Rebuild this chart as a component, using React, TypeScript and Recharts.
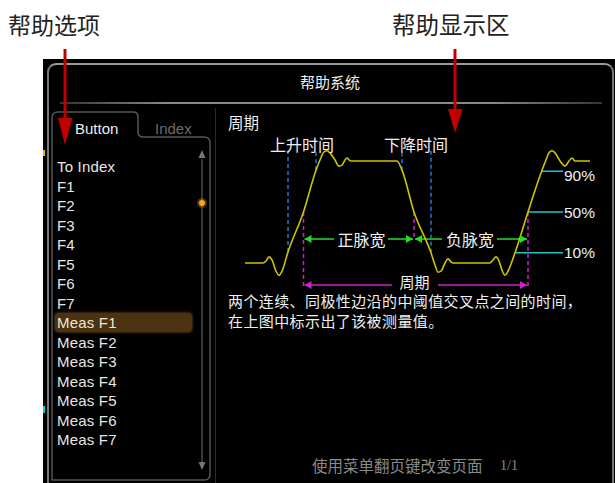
import React from 'react';
import { LineChart, Line, XAxis, YAxis, ReferenceLine, ReferenceDot } from 'recharts';

// waveform: time (arbitrary units) vs level in % of amplitude
const waveT = [0, 18, 21, 24, 27, 31, 34, 37, 43, 58.5, 71, 75, 79, 82, 85, 90, 94, 97, 100, 102, 104, 106, 152, 157, 169, 186, 190, 193, 196, 200, 203, 206, 208, 245, 248, 251, 254, 257, 260, 263, 270, 283, 297, 301, 304, 307, 310, 315, 320, 324, 327, 330, 345];
const waveV = [0, 0, 2, 6, 3, -8, -12, -8, 10.8, 50, 91, 101, 109, 110, 108, 101, 95, 96, 101, 103, 101, 100, 100, 91, 50, 10, -2, -9, -8, 0, 4, 1, 0, 0, 3, 6, 2, -7, -12, -8, 10, 50, 91, 101, 108, 110, 108, 100, 95, 100, 103, 100, 100];

const levels = [90, 50, 10];
const levelStartT = [297, 283, 270];
const levelLabelV = [85.3, 49.5, 10.3];

// blue timing marks (t, level crossed)
const timingT = [43, 71, 157, 186];
const timingV = [10.8, 91, 91, 10];

const menuItems = ['To Index', 'F1', 'F2', 'F3', 'F4', 'F5', 'F6', 'F7', 'Meas F1', 'Meas F2', 'Meas F3', 'Meas F4', 'Meas F5', 'Meas F6', 'Meas F7'];
const selectedItem = 'Meas F1';

const data = waveT.map((t, i) => ({ t, v: waveV[i] }));

const CJK = '"Noto Sans CJK SC", sans-serif';
const BLUE = '#1f7ae0';
const MAGENTA = '#cc22cc';
const GREEN = '#22dd22';
const CYAN = '#20c4c8';

const textShape = (value: string, size = 16, anchor = 'middle', family = CJK) => (p: any) => (
  <text x={p.cx} y={p.cy} textAnchor={anchor} dominantBaseline="central" fontSize={size} fill="#f0f0f0" fontFamily={family}>
    {value}
  </text>
);

const arrowShape = (dir: 'left' | 'right', color: string) => (p: any) => {
  const { cx, cy } = p;
  const d = dir === 'left'
    ? `M${cx},${cy} L${cx + 7},${cy - 4} L${cx + 7},${cy + 4} Z`
    : `M${cx},${cy} L${cx - 7},${cy - 4} L${cx - 7},${cy + 4} Z`;
  return <path d={d} fill={color} />;
};

const seg = (x1: number, y1: number, x2: number, y2: number, color: string, dash?: string, key?: string) => (
  <ReferenceLine key={key} segment={[{ x: x1, y: y1 }, { x: x2, y: y2 }]} stroke={color} strokeWidth={1.5} strokeDasharray={dash} />
);

const Waveform = () => (
  <LineChart width={395} height={200} data={data} margin={{ top: 25.5, right: 25, bottom: 21.5, left: 25 }}>
    <XAxis type="number" dataKey="t" domain={[0, 345]} hide />
    <YAxis type="number" domain={[-25, 125]} hide />
    {timingT.map((t, i) => seg(t, timingV[i], t, 110, BLUE, '4 3', 'b' + i))}
    {seg(58.5, 50, 58.5, -23.5, MAGENTA, '4 3')}
    {seg(169, 50, 169, 22.5, MAGENTA, '4 3')}
    {seg(283, 50, 283, -23.5, MAGENTA, '4 3')}
    {seg(59.5, 23.5, 89, 23.5, GREEN)}
    {seg(143, 23.5, 168, 23.5, GREEN)}
    {seg(170, 23.5, 197, 23.5, GREEN)}
    {seg(252, 23.5, 282, 23.5, GREEN)}
    {seg(59.5, -21.5, 147, -21.5, MAGENTA)}
    {seg(193, -21.5, 282, -21.5, MAGENTA)}
    {levels.map((v, i) => seg(levelStartT[i], v, 318, v, CYAN, undefined, 'c' + i))}
    <ReferenceDot x={59.5} y={23.5} shape={arrowShape('left', GREEN)} />
    <ReferenceDot x={168} y={23.5} shape={arrowShape('right', GREEN)} />
    <ReferenceDot x={170} y={23.5} shape={arrowShape('left', GREEN)} />
    <ReferenceDot x={282} y={23.5} shape={arrowShape('right', GREEN)} />
    <ReferenceDot x={59.5} y={-21.5} shape={arrowShape('left', MAGENTA)} />
    <ReferenceDot x={282} y={-21.5} shape={arrowShape('right', MAGENTA)} />
    <ReferenceDot x={57} y={116.5} shape={textShape('上升时间')} />
    <ReferenceDot x={171} y={116.5} shape={textShape('下降时间')} />
    <ReferenceDot x={116.5} y={23.5} shape={textShape('正脉宽')} />
    <ReferenceDot x={225} y={23.5} shape={textShape('负脉宽')} />
    <ReferenceDot x={169.5} y={-18} shape={textShape('周期', 15)} />
    {levels.map((v, i) => (
      <ReferenceDot key={'l' + i} x={319} y={levelLabelV[i]} shape={textShape(`${v}%`, 15.5, 'start', '"Liberation Sans", Arial, sans-serif')} />
    ))}
    <Line type="monotone" dataKey="v" stroke="#cfc400" strokeWidth={1.6} dot={false} isAnimationActive={false} />
  </LineChart>
);

const abs = (s: React.CSSProperties): React.CSSProperties => ({ position: 'absolute', ...s });

export default function App() {
  return (
    <div style={abs({ left: 0, top: 0, width: 615, height: 483, background: '#fff', overflow: 'hidden', fontFamily: CJK })}>
      <div style={abs({ left: 8, top: 13, fontSize: 23, lineHeight: '23px', color: '#222' })}>帮助选项</div>
      <div style={abs({ left: 392, top: 13, fontSize: 23.5, lineHeight: '23px', color: '#222' })}>帮助显示区</div>

      {/* scope frame */}
      <div style={abs({ left: 43, top: 59, width: 572, height: 424, background: '#000' })} />
      <div style={abs({ left: 47, top: 63, width: 563, height: 440, borderTop: '2px solid #9a9a9a', borderLeft: '2px solid #777', borderRight: '2px solid #777', borderRadius: 9 })} />
      <div style={abs({ left: 43, top: 150, width: 2, height: 6, background: '#d0c000' })} />
      <div style={abs({ left: 43, top: 406, width: 2, height: 7, background: '#00d0d0' })} />
      <div style={abs({ left: 300, top: 74, fontSize: 15, lineHeight: '16px', color: '#eee' })}>帮助系统</div>
      <div style={abs({ left: 60, top: 102, width: 542, height: 2, background: 'linear-gradient(to right, #333, #8a8a8a 20%, #8a8a8a 80%, #333)' })} />
      <div style={abs({ left: 215, top: 108, width: 1, height: 375, background: '#2a2a2a' })} />

      <svg width={615} height={483} style={abs({ left: 0, top: 0 })}>
        <path d="M52,480 L52,118 Q52,112 58,112 L133,112 Q138,112 138,117 L138,132 Q138,137 143,137 L204,137 Q210,137 210,143 L210,474 Q210,480 204,480 Z" fill="none" stroke="#555" strokeWidth={1.5} />
        <line x1={202} y1={159} x2={202} y2={462} stroke="#4a4a4a" strokeWidth={1.5} />
        <path d="M202,150 L198.5,158 L205.5,158 Z" fill="#777" />
        <path d="M202,470 L198.5,462 L205.5,462 Z" fill="#777" />
        <circle cx={202} cy={203} r={5} fill="#f5a623" opacity={0.3} />
        <circle cx={202} cy={203} r={3} fill="#f5a623" />
      </svg>

      <div style={abs({ left: 75, top: 120, fontSize: 15, lineHeight: '18px', color: '#eee', fontFamily: '"Liberation Sans", Arial, sans-serif' })}>Button</div>
      <div style={abs({ left: 155, top: 120, fontSize: 15, lineHeight: '18px', color: '#6c6c6c', fontFamily: '"Liberation Sans", Arial, sans-serif' })}>Index</div>

      <div style={abs({ left: 55, top: 313, width: 137, height: 19, background: '#4b3210', borderRadius: 4, boxShadow: '0 0 3px #7a5520' })} />
      {menuItems.map((m, i) => (
        <div key={m} style={abs({ left: 57, top: 157.25 + i * 19.5, fontSize: 15, lineHeight: '19.5px', color: m === selectedItem ? '#f0e6d6' : '#e6e6e6', fontFamily: '"Liberation Sans", Arial, sans-serif', letterSpacing: 0.2 })}>{m}</div>
      ))}

      <div style={abs({ left: 228, top: 114, fontSize: 15.5, lineHeight: '16px', color: '#f0f0f0' })}>周期</div>
      <div style={abs({ left: 220, top: 110, width: 395, height: 200 })}>
        <Waveform />
      </div>
      <div style={abs({ left: 228, top: 295, fontSize: 15, lineHeight: '11px', color: '#f0f0f0', letterSpacing: 0.4 })}>两个连续、同极性边沿的中阈值交叉点之间的时间，</div>
      <div style={abs({ left: 228, top: 314.5, fontSize: 15, lineHeight: '11px', color: '#f0f0f0', letterSpacing: 0.4 })}>在上图中标示出了该被测量值。</div>
      <div style={abs({ left: 312, top: 457, fontSize: 15.5, lineHeight: '16px', color: '#8a8a8a' })}>使用菜单翻页键改变页面</div>
      <div style={abs({ left: 500, top: 458, fontSize: 14, lineHeight: '15px', color: '#8a8a8a', fontFamily: '"Liberation Serif", serif' })}>1/1</div>

      {/* red callout arrows */}
      <svg width={615} height={483} style={abs({ left: 0, top: 0 })}>
        <line x1={65} y1={49} x2={65} y2={122} stroke="#c00000" strokeWidth={3} />
        <path d="M58,118 L72.5,118 L65,145 Z" fill="#c00000" />
        <line x1={455} y1={49} x2={455} y2={112} stroke="#c00000" strokeWidth={3} />
        <path d="M448,109 L462.5,109 L455,133 Z" fill="#c00000" />
      </svg>
    </div>
  );
}
